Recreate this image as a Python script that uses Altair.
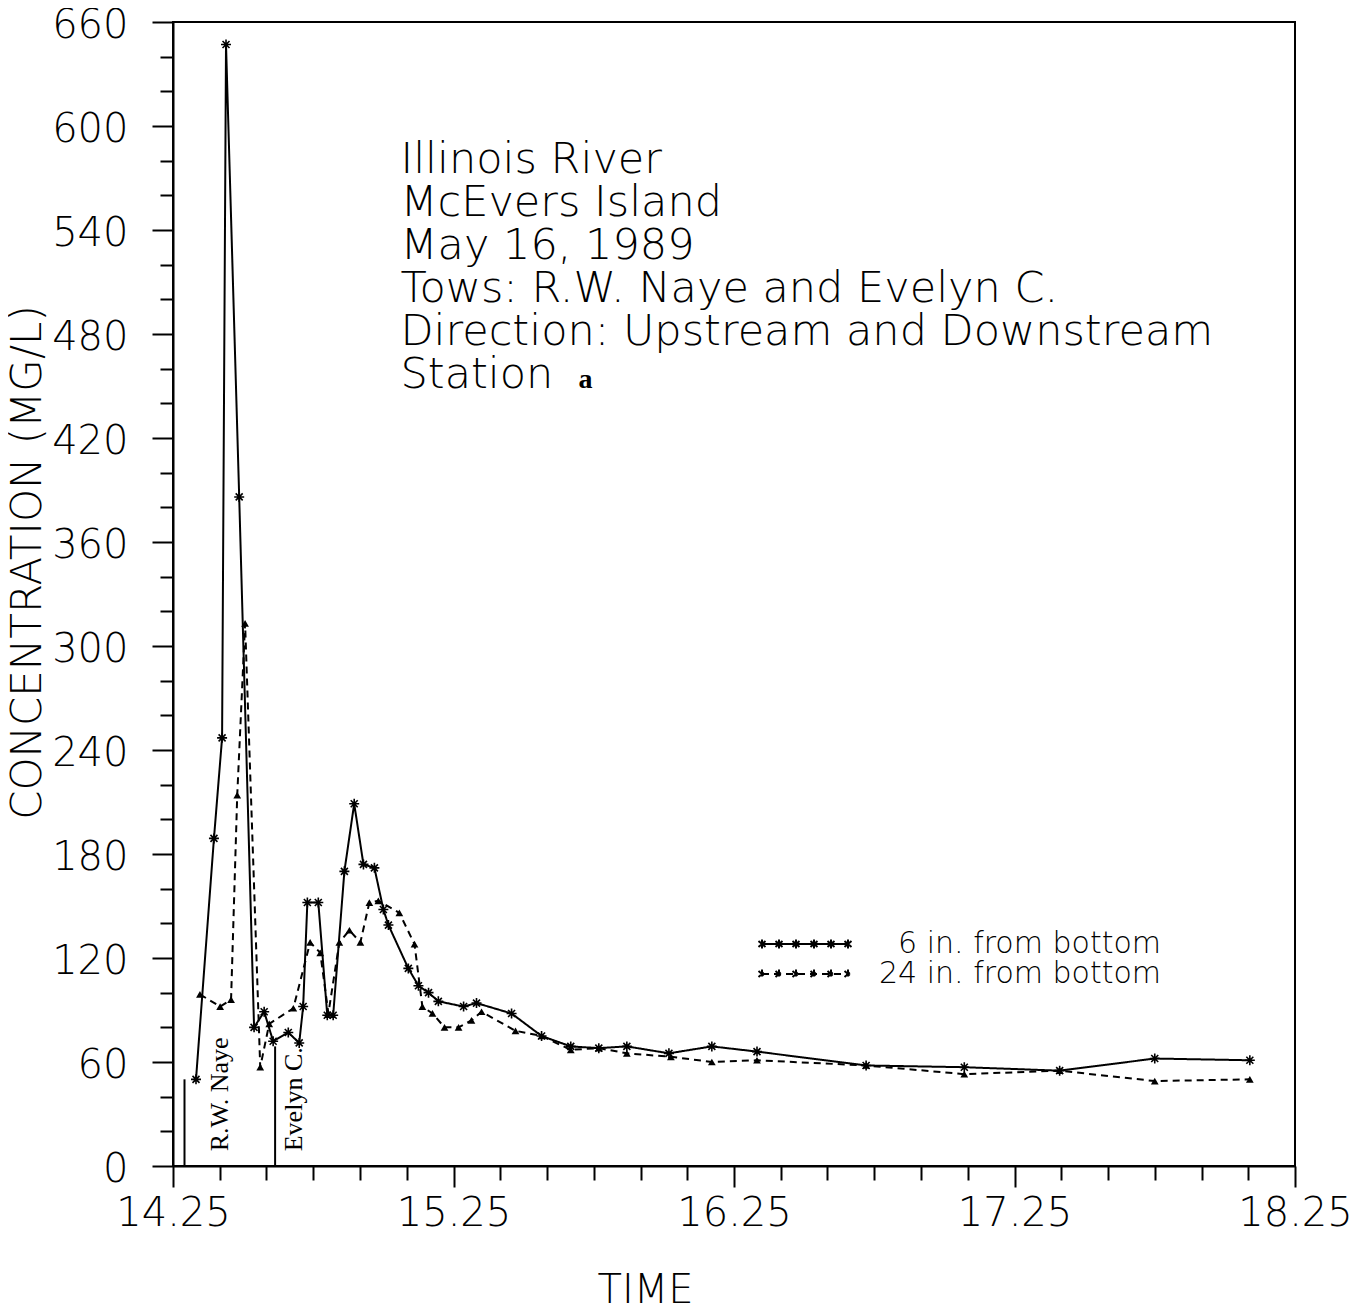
import altair as alt
import pandas as pd

# ---- data (time in decimal hours, concentration mg/L)
t_6in = [14.332, 14.396, 14.425, 14.439, 14.486, 14.539, 14.575, 14.607, 14.661, 14.700,
         14.714, 14.729, 14.768, 14.800, 14.821, 14.861, 14.896, 14.929, 14.968, 15.000,
         15.018, 15.089, 15.125, 15.161, 15.196, 15.286, 15.332, 15.457, 15.564, 15.668,
         15.768, 15.868, 16.018, 16.171, 16.332, 16.721, 17.071, 17.411, 17.750, 18.089]
c_6in = [50, 189, 247, 647, 386, 80, 89, 72, 77, 71,
         92, 152, 152, 87, 87, 170, 209, 174, 172, 148,
         139, 114, 104, 100, 95, 92, 94, 88, 75, 69,
         68, 69, 65, 69, 66, 58, 57, 55, 62, 61]

t_24in = [14.346, 14.418, 14.457, 14.479, 14.507, 14.561, 14.593, 14.679, 14.739, 14.775,
          14.804, 14.843, 14.879, 14.918, 14.950, 14.982, 15.057, 15.111, 15.139, 15.175,
          15.218, 15.268, 15.314, 15.350, 15.471, 15.564, 15.668, 15.768, 15.868, 16.025,
          16.171, 16.332, 16.721, 17.071, 17.411, 17.750, 18.089]
c_24in = [99, 92, 96, 214, 313, 57, 82, 91, 129, 123,
          88, 129, 136, 129, 152, 153, 146, 128, 92, 88,
          80, 80, 84, 89, 78, 75, 67, 68, 65, 63,
          60, 61, 58, 53, 55, 49, 50]

series_names = ["6 in. from bottom", "24 in. from bottom"]

tow_names = ["R.W. Naye", "Evelyn C."]
tow_times = [14.291, 14.614]
tow_tops = [50, 69]
tow_label_times = [14.416, 14.682]

info_lines = ["Illinois River", "McEvers Island", "May 16, 1989",
              "Tows: R.W. Naye and Evelyn C.",
              "Direction: Upstream and Downstream", "Station"]
station_id = "a"

# ---- tables
df6 = pd.DataFrame({"time": t_6in, "conc": c_6in, "series": series_names[0]})
df24 = pd.DataFrame({"time": t_24in, "conc": c_24in, "series": series_names[1]})
df = pd.concat([df6, df24], ignore_index=True)
tow_lines = pd.DataFrame({"name": tow_names, "time": tow_times, "conc": tow_tops})
tow_labels = pd.DataFrame({"name": tow_names, "time": tow_label_times})
one = pd.DataFrame({"k": [0]})

FONT = "DejaVu Sans"
W = 200

x_scale = alt.Scale(domain=[14.25, 18.25], nice=False, zero=False)
y_scale = alt.Scale(domain=[0, 660], nice=False)

x_ticks = [round(14.25 + i / 6, 4) for i in range(25)]
y_ticks = list(range(0, 661, 20))

x_major_test = "abs((datum.value - 14.25) - round(datum.value - 14.25)) < 0.01"
y_major_test = "datum.value % 60 == 0"

x_axis = alt.Axis(
    values=x_ticks,
    labelExpr=f"{x_major_test} ? format(datum.value, '.2f') : ''",
    tickSize={"condition": {"test": x_major_test, "value": 21}, "value": 14},
    labelFont=FONT, labelFontSize=40, labelFontWeight=W, labelPadding=6,
    labelFlush=False, labelOverlap=False, labelBound=False,
    title="TIME", titleFont=FONT, titleFontSize=40, titleFontWeight=W,
    titleX=472, titleY=136, titleAlign="center", titleBaseline="alphabetic",
)
y_axis = alt.Axis(
    values=y_ticks,
    labelExpr=f"{y_major_test} ? datum.label : ''",
    tickSize={"condition": {"test": y_major_test, "value": 21}, "value": 13},
    labelFont=FONT, labelFontSize=40, labelFontWeight=W, labelPadding=24,
    labelOffset=3,
    labelFlush=False, labelOverlap=False, labelBound=False,
    title="CONCENTRATION (MG/L)", titleFont=FONT, titleFontSize=42, titleFontWeight=W,
    titleX=-146, titleY=540, titleAngle=270, titleAlign="center", titleBaseline="middle",
)

X = alt.X("time:Q", scale=x_scale, axis=x_axis)
Y = alt.Y("conc:Q", scale=y_scale, axis=y_axis)


def xd(v):
    return alt.XDatum(v, type="quantitative", scale=x_scale, axis=x_axis)


def yd(v):
    return alt.YDatum(v, type="quantitative", scale=y_scale, axis=y_axis)


# legend symbol: an 86 px line with small asterisks (path units = 10 px)
parts = ["M-4.3,0H4.3"]
for cx in (-4.3, -2.6, -0.9, 0.9, 2.6, 4.3):
    parts.append(
        f"M{cx:.2f},-0.45L{cx:.2f},0.45"
        f"M{cx - 0.35:.2f},-0.3L{cx + 0.35:.2f},0.3"
        f"M{cx - 0.35:.2f},0.3L{cx + 0.35:.2f},-0.3"
    )
legend_path = "".join(parts)

legend = alt.Legend(
    title=None, orient="none", legendX=617, legendY=907, padding=0,
    symbolType=legend_path, symbolSize=400, symbolStrokeWidth=2,
    symbolStrokeColor="black", symbolFillColor="transparent",
    labelFont=FONT, labelFontSize=30, labelFontWeight=W, labelColor="black",
    labelAlign="right", labelOffset=341, labelLimit=0, rowPadding=-2,
)

lines = alt.Chart(df).mark_line(color="black", strokeWidth=2).encode(
    x=X, y=Y,
    strokeDash=alt.StrokeDash(
        "series:N",
        scale=alt.Scale(domain=series_names, range=[[1, 0], [7, 5]]),
        legend=legend,
    ),
    order="time:Q",
)

asterisk = "M-1,0L1,0M0,-1L0,1M-0.7,-0.7L0.7,0.7M-0.7,0.7L0.7,-0.7"
pts6 = alt.Chart(df6).mark_point(
    shape=asterisk, size=100, color="black", strokeWidth=1.6, filled=False, opacity=1
).encode(x=X, y=Y)
pts24 = alt.Chart(df24).mark_point(
    shape="triangle-up", size=60, color="black", filled=True, opacity=1
).encode(x=X, y=Y)

tow_rules = alt.Chart(tow_lines).mark_rule(color="black", strokeWidth=2).encode(
    x=X, y=Y, y2=alt.datum(0),
)
tow_text = alt.Chart(tow_labels).mark_text(
    angle=270, align="left", baseline="middle", font="Liberation Serif",
    fontSize=26, color="black",
).encode(x=X, y=yd(8.5), text="name:N")

info = alt.Chart(one).mark_text(
    text=info_lines, align="left", baseline="alphabetic", font=FONT,
    fontSize=43, fontWeight=W, lineHeight=43, color="black",
).encode(x=xd(15.061), y=yd(572.9))

station = alt.Chart(one).mark_text(
    text=station_id, align="left", baseline="alphabetic", font="Liberation Serif",
    fontSize=28, fontWeight="bold", color="black",
).encode(x=xd(15.696), y=yd(448.8))

chart = alt.layer(lines, pts6, pts24, tow_rules, tow_text, info, station).properties(
    width=1122, height=1144,
    autosize=alt.AutoSizeParams(type="none"),
    padding={"left": 165, "top": 14, "right": 60, "bottom": 142},
    background="white",
).configure_view(stroke="black", strokeWidth=2).configure_axis(
    domainColor="black", domainWidth=2, tickColor="black", tickWidth=2,
    labelColor="black", titleColor="black", grid=False, labelOverlap=False,
)

chart.save("out.html", embed_options={"renderer": "svg", "actions": False})
